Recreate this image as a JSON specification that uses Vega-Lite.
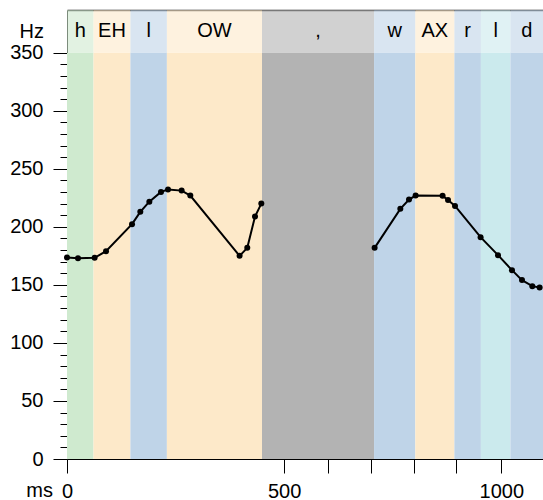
{
  "$schema": "https://vega.github.io/schema/vega-lite/v6.json",
  "width": 476,
  "height": 449,
  "autosize": "none",
  "padding": {"left": 67, "top": 10, "right": 0, "bottom": 41},
  "background": "white",
  "config": {
    "view": {"stroke": null},
    "font": "Liberation Sans",
    "axis": {"labelFont": "Liberation Sans", "titleFont": "Liberation Sans", "grid": false, "domainColor": "black", "tickColor": "black", "labelColor": "black", "titleColor": "black", "domainWidth": 1, "tickWidth": 1}
  },
  "datasets": {
    "ph": [
      {"label": "h", "start": 0, "end": 61, "c": "g"},
      {"label": "EH", "start": 61, "end": 146, "c": "o"},
      {"label": "l", "start": 146, "end": 230, "c": "b"},
      {"label": "OW", "start": 230, "end": 449, "c": "o"},
      {"label": ",", "start": 449, "end": 707, "c": "k"},
      {"label": "w", "start": 707, "end": 802, "c": "b"},
      {"label": "AX", "start": 802, "end": 892, "c": "o"},
      {"label": "r", "start": 892, "end": 953, "c": "b"},
      {"label": "l", "start": 953, "end": 1021, "c": "c"},
      {"label": "d", "start": 1021, "end": 1096, "c": "b"}
    ],
    "f0": [
      {"seg": 1, "t": 0, "f": 173.5},
      {"seg": 1, "t": 25.3, "f": 173.0},
      {"seg": 1, "t": 63.6, "f": 173.3},
      {"seg": 1, "t": 89.8, "f": 179.0},
      {"seg": 1, "t": 149.7, "f": 202.3},
      {"seg": 1, "t": 168.8, "f": 212.9},
      {"seg": 1, "t": 189.6, "f": 221.7},
      {"seg": 1, "t": 216.4, "f": 230.1},
      {"seg": 1, "t": 232.6, "f": 232.1},
      {"seg": 1, "t": 263.9, "f": 231.2},
      {"seg": 1, "t": 283.9, "f": 226.9},
      {"seg": 1, "t": 397.4, "f": 175.0},
      {"seg": 1, "t": 415.1, "f": 181.9},
      {"seg": 1, "t": 432.9, "f": 208.8},
      {"seg": 1, "t": 447.4, "f": 220.0},
      {"seg": 2, "t": 708.3, "f": 181.9},
      {"seg": 2, "t": 767.5, "f": 215.5},
      {"seg": 2, "t": 787.5, "f": 223.5},
      {"seg": 2, "t": 802.7, "f": 226.9},
      {"seg": 2, "t": 864.8, "f": 226.7},
      {"seg": 2, "t": 877.3, "f": 223.2},
      {"seg": 2, "t": 893.4, "f": 218.0},
      {"seg": 2, "t": 952.3, "f": 191.1},
      {"seg": 2, "t": 992.4, "f": 175.6},
      {"seg": 2, "t": 1024.6, "f": 162.7},
      {"seg": 2, "t": 1047.6, "f": 154.1},
      {"seg": 2, "t": 1071.4, "f": 148.9},
      {"seg": 2, "t": 1088.2, "f": 147.7}
    ]
  },
  "resolve": {"axis": {"x": "independent", "y": "independent"}},
  "layer": [
    {
      "data": {"name": "ph"},
      "mark": {"type": "rect"},
      "encoding": {
        "x": {"field": "start", "type": "quantitative", "scale": {"domain": [0, 1096], "nice": false, "zero": false},
          "axis": {"orient": "bottom", "values": [0, 500, 600, 700, 800, 895, 1000], "format": "d", "tickSize": 14, "labelExpr": "datum.value == 0 || datum.value == 500 || datum.value == 1000 ? datum.label : ''", "labelFlush": false, "labelOverlap": false, "labelFontSize": 20, "labelBaseline": "alphabetic", "labelPadding": 24, "title": "ms", "titleAngle": 0, "titleAlign": "right", "titleBaseline": "alphabetic", "titleX": -14.5, "titleY": 37, "titleFontSize": 20, "titleFontWeight": "normal"}},
        "x2": {"field": "end"},
        "y": {"datum": 0, "type": "quantitative", "scale": {"domain": [0, 386.8], "nice": false, "zero": false},
          "axis": {"orient": "left", "values": [0, 50, 100, 150, 200, 250, 300, 350], "tickSize": 14, "labelPadding": 10, "labelFontSize": 20, "labelOverlap": false, "labelFlush": false, "title": "Hz", "titleAngle": 0, "titleAlign": "right", "titleBaseline": "alphabetic", "titleX": -23.5, "titleY": 27, "titleFontSize": 20, "titleFontWeight": "normal"}},
        "y2": {"datum": 350},
        "color": {"field": "c", "type": "nominal", "scale": {"domain": ["g", "o", "b", "k", "c"], "range": ["#cfeacf", "#fde9c9", "#bfd4e8", "#b3b3b3", "#cbeaed"]}, "legend": null}
      }
    },
    {
      "data": {"name": "ph"},
      "mark": {"type": "rect", "opacity": 0.6},
      "encoding": {
        "x": {"field": "start", "type": "quantitative",
          "axis": {"orient": "top", "domain": true, "ticks": false, "labels": false, "title": null, "domainWidth": 1.5, "domainColor": "#222"}},
        "x2": {"field": "end"},
        "y": {"datum": 350, "type": "quantitative",
          "axis": {"orient": "left", "values": [10, 20, 30, 40, 60, 70, 80, 90, 110, 120, 130, 140, 160, 170, 180, 190, 210, 220, 230, 240, 260, 270, 280, 290, 310, 320, 330, 340], "tickSize": 7, "labels": false, "domain": false, "title": null}},
        "y2": {"datum": 386.8},
        "color": {"field": "c", "type": "nominal", "legend": null}
      }
    },
    {
      "data": {"name": "ph"},
      "transform": [{"calculate": "(datum.start + datum.end) / 2", "as": "mid"}],
      "mark": {"type": "text", "fontSize": 20, "color": "black", "baseline": "middle", "align": "center", "font": "Liberation Sans"},
      "encoding": {
        "x": {"field": "mid", "type": "quantitative", "axis": null},
        "y": {"datum": 368.4, "type": "quantitative", "axis": null},
        "text": {"field": "label"}
      }
    },
    {
      "data": {"name": "f0"},
      "mark": {"type": "line", "color": "black", "strokeWidth": 2, "point": {"filled": true, "size": 36, "color": "black"}},
      "encoding": {
        "x": {"field": "t", "type": "quantitative", "axis": null},
        "y": {"field": "f", "type": "quantitative", "axis": null},
        "detail": {"field": "seg", "type": "nominal"}
      }
    }
  ]
}
